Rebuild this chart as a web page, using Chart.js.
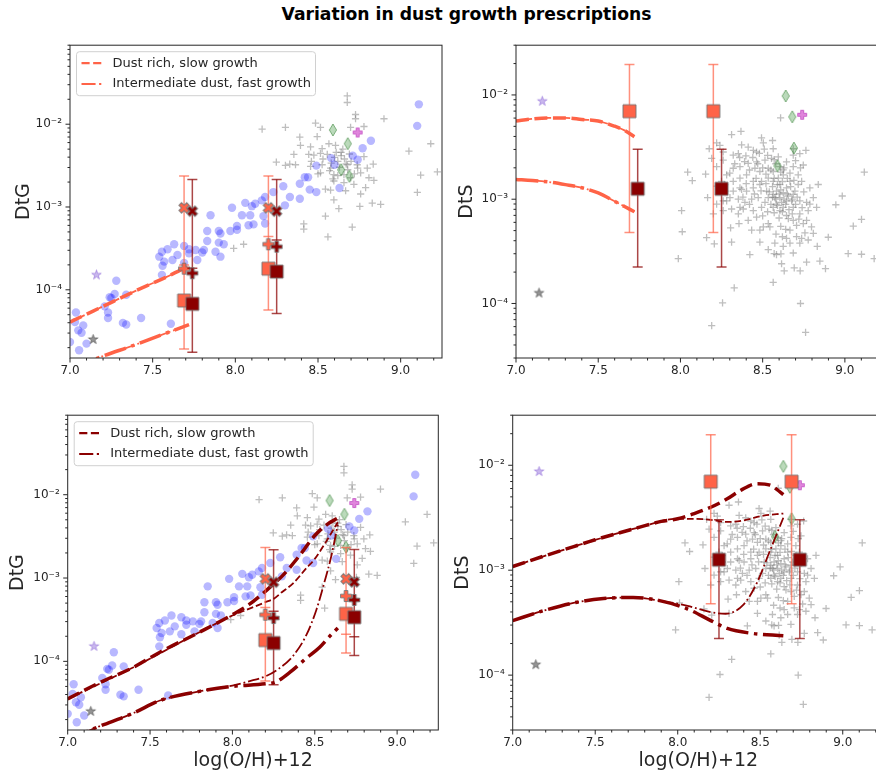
<!DOCTYPE html>
<html>
<head>
<meta charset="utf-8">
<title>Variation in dust growth prescriptions</title>
<script src="https://cdn.jsdelivr.net/npm/chart.js@4.4.1/dist/chart.umd.min.js"></script>
<style>
  html, body { margin: 0; padding: 0; background: #fff; width: 876px; height: 780px; overflow: hidden; }
  canvas { position: absolute; }
  #title { position: absolute; left: 0; top: 4px; width: 933px; text-align: center;
           font: bold 17.2px 'DejaVu Sans', sans-serif; color: #000; }
</style>
</head>
<body>
<div id="title">Variation in dust growth prescriptions</div>
<canvas id="tl"></canvas>
<canvas id="tr"></canvas>
<canvas id="bl"></canvas>
<canvas id="br"></canvas>
<script>
const FONT = "'DejaVu Sans', sans-serif";
const INK = '#262626';
const TOMATO = '#ff6347';
const DARKRED = '#8b0000';

// axes
const xRange = [7.0, 9.25];
const xTicks = [7.0, 7.5, 8.0, 8.5, 9.0];
const dtgRange = [1.5e-5, 0.09];
const dtsRange = [3.0e-5, 0.03];
const yTicks = [1e-4, 1e-3, 1e-2];
const SUP = { '-4': '\u207b\u2074', '-3': '\u207b\u00b3', '-2': '\u207b\u00b2' };

// observed galaxies: [log(O/H)+12, log10 value]
const blueDtG = [
  [7.00,-4.63],[7.036,-4.275],[7.03,-4.39],[7.05,-4.49],[7.08,-4.43],[7.07,-4.52],[7.055,-4.73],[7.10,-4.65],
  [7.21,-4.20],[7.23,-4.275],[7.23,-4.34],[7.24,-4.09],[7.25,-4.10],[7.27,-4.05],[7.28,-3.89],[7.32,-4.40],
  [7.34,-4.42],[7.34,-4.06],[7.43,-4.34],[7.61,-4.41],[7.556,-3.82],[7.54,-3.60],[7.556,-3.54],[7.57,-3.66],
  [7.56,-3.71],[7.59,-3.51],[7.63,-3.45],[7.62,-3.64],[7.65,-3.58],[7.69,-3.47],[7.69,-3.675],[7.72,-3.51],
  [7.72,-3.56],[7.76,-3.52],[7.77,-3.64],[7.80,-3.55],[7.81,-3.52],[7.83,-3.41],[7.83,-3.29],[7.85,-3.10],
  [7.88,-3.54],[7.90,-3.29],[7.91,-3.32],[7.90,-3.43],[7.93,-3.45],[7.91,-3.60],[7.97,-3.29],[7.98,-3.01],
  [8.01,-3.275],[8.01,-3.23],[8.04,-3.10],[8.06,-2.95],[8.08,-3.22],[8.09,-3.10],[8.10,-2.99],[8.11,-3.21],
  [8.12,-2.96],[8.16,-2.92],[8.17,-3.11],[8.18,-3.20],[8.18,-2.88],[8.23,-2.82],[8.29,-2.75],[8.30,-2.98],
  [8.33,-2.88],[8.39,-2.90],[8.39,-2.72],[8.42,-2.64],[8.44,-2.64],[8.45,-2.79],[8.49,-2.82],[8.49,-2.50],
  [8.58,-2.41],[8.60,-2.49],[8.63,-2.77],[8.71,-2.38],[8.74,-2.43],[8.77,-2.29],[8.82,-2.20],[9.10,-2.02],
  [9.11,-1.76]
];
const greyDtG = [
  [8.677,-1.659],[8.677,-1.738],[8.727,-1.883],[8.727,-1.934],[8.899,-1.934],[8.162,-2.059],[8.303,-2.039],
  [8.485,-1.988],[8.515,-2.039],[8.778,-2.028],[8.697,-2.039],[8.390,-2.157],[8.495,-2.149],[8.394,-2.255],
  [8.455,-2.275],[8.525,-2.294],[8.566,-2.236],[8.606,-2.255],[8.354,-2.365],[8.444,-2.365],[8.475,-2.373],
  [8.515,-2.353],[8.556,-2.365],[8.640,-2.341],[8.778,-2.392],[8.248,-2.459],[8.303,-2.498],[8.329,-2.483],
  [8.364,-2.490],[8.455,-2.510],[8.525,-2.490],[8.576,-2.530],[8.677,-2.490],[8.737,-2.490],[8.798,-2.530],
  [8.834,-2.483],[9.222,-2.577],[9.182,-2.236],[9.050,-2.326],[9.121,-2.616],[9.101,-2.824],[8.515,-2.589],
  [8.596,-2.608],[8.657,-2.608],[8.697,-2.647],[8.758,-2.589],[8.808,-2.647],[8.838,-2.679],[8.545,-2.785],
  [8.596,-2.686],[8.657,-2.706],[8.717,-2.726],[8.788,-2.765],[8.576,-2.796],[8.667,-2.804],[8.758,-2.843],
  [8.596,-2.914],[8.828,-2.953],[8.879,-2.969],[8.753,-2.992],[8.626,-3.020],[8.545,-3.110],[8.707,-3.243],
  [8.560,-3.361],[8.414,-3.204],[8.414,-3.267],[7.99,-3.50],[8.05,-3.45],[8.60,-2.40],[8.62,-2.45],
  [8.64,-2.38],[8.58,-2.47],[8.66,-2.42],[8.63,-2.52],[8.70,-2.45],[8.61,-2.34],[8.68,-2.55],[8.57,-2.56],
  [8.65,-2.30],[8.72,-2.60],[8.53,-2.42],[8.62,-2.62],[8.69,-2.36],[8.74,-2.53],[8.50,-2.60],[8.46,-2.45],
  [8.59,-2.66],[8.67,-2.48]
];
const greyDtS = [
  [7.987,-3.569],[8.007,-3.109],[8.011,-3.312],[8.044,-2.740],[8.072,-2.822],[8.153,-2.759],[8.165,-2.984],
  [8.159,-3.369],[8.206,-3.428],[8.190,-4.212],[8.256,-3.994],[8.327,-3.850],[8.422,-3.531],[8.311,-3.412],
  [8.305,-3.275],[8.356,-3.234],[8.483,-3.412],[8.564,-3.797],[8.570,-3.522],[8.615,-3.619],[8.631,-3.687],
  [8.692,-3.659],[8.728,-3.687],[8.730,-4.000],[8.761,-4.278],[8.767,-3.603],[8.848,-3.594],[8.882,-3.665],
  [9.020,-3.522],[9.101,-3.528],[9.178,-3.569],[9.051,-3.259],[9.101,-3.194],[8.945,-3.053],[8.984,-2.969],
  [9.118,-2.740],[8.899,-3.365],[8.832,-3.453],[8.808,-3.328],[8.757,-3.322],[8.737,-3.375],[8.686,-3.516],
  [8.611,-3.525],[8.645,-3.375],[8.666,-3.297],[8.581,-3.334],[8.534,-3.234],[8.483,-3.297],[8.433,-3.297],
  [8.412,-3.203],[8.382,-3.094],[8.352,-3.141],[8.609,-2.219],[8.220,-2.459],[8.311,-2.381],[8.368,-2.350],
  [8.412,-2.500],[8.493,-2.412],[8.560,-2.437],[8.504,-2.459],[8.372,-2.478],[8.352,-2.562],[8.398,-2.584],
  [8.443,-2.531],[8.463,-2.547],[8.321,-2.578],[8.260,-2.547],[8.240,-2.484],[8.175,-2.516],[8.190,-2.609],
  [8.260,-2.625],[8.220,-2.687],[8.321,-2.703],[8.362,-2.687],[8.412,-2.656],[8.463,-2.641],[8.514,-2.625],
  [8.554,-2.609],[8.595,-2.594],[8.686,-2.578],[8.726,-2.562],[8.763,-2.531],[8.747,-2.672],[8.686,-2.687],
  [8.716,-2.766],[8.625,-2.766],[8.666,-2.828],[8.737,-2.828],[8.787,-2.891],[8.838,-2.859],[8.828,-3.078],
  [8.777,-3.109],[8.767,-3.031],[8.726,-3.016],[8.686,-2.953],[8.645,-2.891],[8.605,-2.859],[8.564,-2.828],
  [8.534,-2.797],[8.483,-2.734],[8.453,-2.703],[8.402,-2.766],[8.362,-2.797],[8.321,-2.828],[8.281,-2.766],
  [8.250,-2.828],[8.220,-2.875],[8.271,-2.922],[8.321,-2.922],[8.362,-2.891],[8.402,-2.922],[8.443,-2.891],
  [8.483,-2.859],[8.524,-2.922],[8.564,-2.953],[8.605,-2.984],[8.645,-3.016],[8.686,-3.078],[8.726,-3.141],
  [8.767,-3.203],[8.686,-3.203],[8.645,-3.156],[8.605,-3.109],[8.564,-3.078],[8.514,-3.031],[8.473,-2.984],
  [8.433,-3.000],[8.392,-3.031],[8.352,-3.000],[8.301,-2.984],[8.260,-3.016],[8.220,-3.047],[8.200,-3.141],
  [8.260,-3.109],[8.311,-3.094],[8.362,-3.078],[8.443,-3.109],[8.493,-3.078],[8.534,-2.984],[8.584,-2.922],
  [8.625,-2.938],[8.584,-3.047],[8.625,-3.078],[8.656,-3.187],[8.706,-3.250],[8.747,-3.234],[8.797,-3.266],
  [8.706,-3.359],[8.666,-3.422],[8.625,-3.453],[8.574,-3.422],[8.534,-3.484],[8.584,-3.531],[8.726,-3.422],
  [8.777,-3.391],[8.463,-3.172],[8.504,-3.266],[8.544,-3.266],[8.676,-3.016],[8.574,-2.984],[8.605,-2.687],
  [8.564,-2.734],[8.534,-2.703],[8.696,-2.922],[8.656,-2.969],[8.615,-3.031],[8.595,-2.797],[8.493,-2.828],
  [8.443,-2.828],[8.372,-2.906],[8.281,-3.016],[8.787,-3.047],[8.808,-2.984],[8.716,-2.859],[8.666,-2.750],
  [8.625,-2.719],[8.645,-2.641],[8.686,-2.516],[8.564,-2.516],
  [8.47,-2.66],[8.50,-2.70],[8.52,-2.76],[8.55,-2.72],[8.57,-2.80],[8.59,-2.86],[8.61,-2.91],[8.62,-2.83],
  [8.60,-2.95],[8.58,-3.00],[8.56,-2.88],[8.54,-2.93],[8.63,-3.00],[8.65,-2.95],[8.67,-2.88],[8.64,-3.05],
  [8.62,-3.12],[8.60,-3.18],[8.57,-3.13],[8.55,-3.05],[8.66,-3.10],[8.68,-3.00],[8.70,-3.05],[8.71,-2.98],
  [8.69,-2.82],[8.63,-2.70],[8.58,-2.66],[8.52,-2.85],[8.49,-2.92],[8.46,-2.80],[8.42,-2.72],[8.39,-2.64],
  [8.44,-2.60],[8.48,-2.56],[8.53,-2.58],[8.51,-2.52],[8.57,-2.62],[8.61,-2.74],[8.65,-2.80],[8.59,-3.06],
  [8.61,-3.26],[8.64,-3.29],[8.68,-3.14],[8.72,-3.19],[8.74,-3.08],[8.75,-2.93],[8.73,-2.70],[8.70,-2.63],
  [8.36,-2.60],[8.33,-2.66],[8.30,-2.75],[8.27,-2.86],[8.40,-2.85],[8.45,-2.95],[8.42,-3.05],[8.38,-2.98],
  [8.56,-2.98],[8.53,-3.12],[8.50,-3.16],[8.62,-3.36]
];
const diamondX = [8.59, 8.64, 8.68, 8.69];
const diamondDtG = [-2.07, -2.55, -2.235, -2.63];
const diamondDtS = [-2.68, -2.01, -2.21, -2.51];
const starPurpleX = [7.16], starPurpleDtG = [-3.82], starPurpleDtS = [-2.06];
const starGreyX = [7.14], starGreyDtG = [-4.60], starGreyDtS = [-3.90];
const orchidX = [8.74], orchidDtG = [-2.10], orchidDtS = [-2.19];

// model tracks, log10 values
const topDtGDashX = [7.0, 7.2, 7.4, 7.6, 7.71];
const topDtGDash  = [-4.39, -4.20, -4.01, -3.83, -3.72];
const topDtGDotX  = [7.0, 7.2, 7.4, 7.6, 7.72];
const topDtGDot   = [-4.95, -4.80, -4.66, -4.51, -4.42];
const topDtSX     = [7.0, 7.1, 7.2, 7.3, 7.4, 7.5, 7.6, 7.66, 7.72];
const topDtSDash  = [-2.25, -2.23, -2.22, -2.22, -2.235, -2.25, -2.30, -2.34, -2.40];
const topDtSDot   = [-2.81, -2.82, -2.835, -2.86, -2.89, -2.94, -3.02, -3.07, -3.12];

const botDtGDashX     = [7.0, 7.2, 7.4, 7.56, 7.8, 8.0, 8.1, 8.2, 8.25, 8.3, 8.4, 8.5, 8.58, 8.64];
const botDtGDash      = [-4.45, -4.25, -4.07, -3.89, -3.65, -3.44, -3.32, -3.16, -3.07, -2.98, -2.75, -2.49, -2.35, -2.28];
const botDtGDashThinX = [7.0, 7.4, 7.8, 8.0, 8.1, 8.2, 8.25, 8.3, 8.37, 8.45, 8.5, 8.57, 8.64];
const botDtGDashThin  = [-4.45, -4.07, -3.65, -3.45, -3.37, -3.29, -3.25, -3.17, -3.06, -2.88, -2.77, -2.56, -2.33];
const botDtGDotX      = [7.0, 7.155, 7.4, 7.56, 7.8, 8.0, 8.2, 8.26, 8.35, 8.45, 8.53, 8.59, 8.64];
const botDtGDot       = [-4.95, -4.81, -4.62, -4.47, -4.36, -4.30, -4.27, -4.25, -4.13, -3.96, -3.83, -3.70, -3.60];
const botDtGDotThinX  = [7.0, 7.155, 7.4, 7.56, 7.8, 8.0, 8.1, 8.2, 8.28, 8.37, 8.45, 8.51, 8.56, 8.60, 8.64];
const botDtGDotThin   = [-4.95, -4.81, -4.62, -4.47, -4.36, -4.29, -4.24, -4.18, -4.09, -3.93, -3.68, -3.38, -3.04, -2.74, -2.36];

const botDtSDashX     = [7.0, 7.2, 7.37, 7.5, 7.77, 7.9, 8.0, 8.1, 8.2, 8.3, 8.38, 8.48, 8.56, 8.6, 8.64];
const botDtSDash      = [-2.965, -2.86, -2.775, -2.71, -2.59, -2.535, -2.51, -2.46, -2.40, -2.32, -2.24, -2.175, -2.19, -2.23, -2.28];
const botDtSDashThinX = [7.0, 7.37, 7.77, 8.0, 8.1, 8.2, 8.3, 8.4, 8.52, 8.64];
const botDtSDashThin  = [-2.965, -2.775, -2.59, -2.51, -2.51, -2.52, -2.54, -2.525, -2.48, -2.46];
const botDtSDotX      = [7.0, 7.2, 7.39, 7.55, 7.73, 7.89, 8.06, 8.2, 8.3, 8.44, 8.64];
const botDtSDot       = [-3.48, -3.38, -3.305, -3.27, -3.26, -3.29, -3.37, -3.48, -3.555, -3.60, -3.625];
const botDtSDotThinX  = [7.0, 7.2, 7.39, 7.55, 7.73, 7.89, 8.06, 8.2, 8.29, 8.4, 8.48, 8.56, 8.64];
const botDtSDotThin   = [-3.48, -3.38, -3.305, -3.27, -3.26, -3.29, -3.34, -3.40, -3.415, -3.325, -3.12, -2.81, -2.50];

// model points, one entry per column (log10)
const topTomatoX = [7.69, 8.20];
const topTomatoCross  = [-3.01, -3.01];
const topTomatoPlus   = [-3.745, -3.45];
const topTomatoSquare = [-4.13, -3.745];
const topTomatoErrLo  = [-4.714, -4.243];
const topTomatoErrHi  = [-2.627, -2.627];
const topTomatoCap    = [-3.70, -3.355];

const topDarkX = [7.74, 8.25];
const topDarkCross  = [-3.05, -3.05];
const topDarkPlus   = [-3.80, -3.48];
const topDarkSquare = [-4.17, -3.78];
const topDarkErrLo  = [-4.753, -4.286];
const topDarkErrHi  = [-2.667, -2.667];
const topDarkCap    = [-3.74, -3.40];

const botTomatoX = [8.20, 8.69];
const botTomatoCross  = [-3.01, -3.01];
const botTomatoPlus   = [-3.44, -3.216];
const botTomatoSquare = [-3.745, -3.43];
const botTomatoErrLo  = [-4.235, -3.90];
const botTomatoErrHi  = [-2.635, -2.635];
const botTomatoCap    = [-3.355, -3.675];

const botDarkX = [8.25, 8.74];
const botDarkCross  = [-3.05, -3.047];
const botDarkPlus   = [-3.48, -3.263];
const botDarkSquare = [-3.78, -3.47];
const botDarkErrLo  = [-4.28, -3.93];
const botDarkErrHi  = [-2.66, -2.659];
const botDarkCap    = [-3.40, -3.706];

const dtsTomatoSquare = [-2.156, -2.156];
const dtsTomatoErrLo  = [-3.32, -3.32];
const dtsTomatoErrHi  = [-1.709, -1.709];
const dtsDarkSquare   = [-2.90, -2.90];
const dtsDarkErrLo    = [-3.65, -3.65];
const dtsDarkErrHi    = [-2.52, -2.52];

const legendLabels = ['Dust rich, slow growth', 'Intermediate dust, fast growth'];

// ---------- helpers ----------
const L = v => Math.pow(10, v);
const pairs = arr => arr.map(([x, v]) => ({ x, y: L(v) }));
const zipXY = (xs, ys) => xs.map((x, i) => ({ x, y: L(ys[i]) }));

const THICK = 3.5, THIN = 1.8;
const dashed = lw => [3.7 * lw, 1.6 * lw];
const dashdot = lw => [6.4 * lw, 1.6 * lw, lw, 1.6 * lw];

function sprite(size, draw) {
  const c = document.createElement('canvas');
  c.width = c.height = size;
  const g = c.getContext('2d');
  g.translate(size / 2, size / 2);
  draw(g);
  return c;
}
function polySprite(points, scale, fill, edge, rot) {
  const ext = Math.max(...points.map(([a, b]) => Math.hypot(a, b))) * scale;
  return sprite(Math.ceil(ext * 2 + 4), g => {
    g.rotate(rot || 0);
    g.beginPath();
    points.forEach(([a, b], i) => i ? g.lineTo(a * scale, b * scale) : g.moveTo(a * scale, b * scale));
    g.closePath();
    g.fillStyle = fill;
    g.fill();
    if (edge) { g.strokeStyle = edge; g.lineWidth = 1; g.stroke(); }
  });
}
const PLUS = [[-1,-3],[-1,-1],[-3,-1],[-3,1],[-1,1],[-1,3],[1,3],[1,1],[3,1],[3,-1],[1,-1],[1,-3]];
const SQUARE = [[-1,-1],[1,-1],[1,1],[-1,1]];
const THIN_DIAMOND = [[0,-1],[0.6,0],[0,1],[-0.6,0]];
const STAR = [];
for (let i = 0; i < 10; i++) {
  const r = i % 2 ? 0.382 : 1, a = -Math.PI / 2 + i * Math.PI / 5;
  STAR.push([r * Math.cos(a), r * Math.sin(a)]);
}
const EDGE = 'rgba(115,115,115,0.9)';
const marks = {
  sqT: polySprite(SQUARE, 6.5, TOMATO, EDGE),
  sqD: polySprite(SQUARE, 6.5, DARKRED, EDGE),
  xT: polySprite(PLUS, 11 / 6, TOMATO, EDGE, Math.PI / 4),
  xD: polySprite(PLUS, 11 / 6, DARKRED, EDGE, Math.PI / 4),
  pT: polySprite(PLUS, 11 / 6, TOMATO, EDGE),
  pD: polySprite(PLUS, 11 / 6, DARKRED, EDGE),
  starP: polySprite(STAR, 5, 'rgba(147,112,219,0.5)', 'rgba(147,112,219,0.6)'),
  starG: polySprite(STAR, 5, 'rgba(90,90,90,0.65)', 'rgba(90,90,90,0.7)'),
  diamond: polySprite(THIN_DIAMOND, 6, 'rgba(60,150,60,0.35)', 'rgba(40,120,40,0.55)'),
  orchid: polySprite(PLUS, 9 / 6, 'rgba(218,112,214,0.85)', 'rgba(200,90,200,0.9)')
};

function pointSet(data, style, extra) {
  return Object.assign({ data, pointStyle: style, pointRadius: 6, pointBorderWidth: 0 }, extra || {});
}
function lineSet(xs, ys, color, lw, dash) {
  return { data: zipXY(xs, ys), showLine: true, borderColor: color, borderWidth: lw, borderDash: dash,
           borderCapStyle: 'butt', pointRadius: 0, cubicInterpolationMode: 'monotone', fill: false };
}
function errBar(x, lo, hi, color) {
  return { data: [{ x, y: L(lo) }, { x, y: L(hi) }], showLine: true, borderColor: color, borderWidth: 1.5,
           pointStyle: 'line', pointRadius: 5, pointBorderColor: color, pointBorderWidth: 1.5 };
}
function modelSets(xs, m, sq, px, xx, barColor) {
  const sets = xs.map((x, i) => errBar(x, m.lo[i], m.hi[i], barColor));
  if (m.cap) sets.push({ data: zipXY(xs, m.cap), pointStyle: 'line', pointRadius: 5,
                         pointBorderColor: barColor, pointBorderWidth: 1.5 });
  sets.push(pointSet(zipXY(xs, m.square), sq));
  if (m.plus) sets.push(pointSet(zipXY(xs, m.plus), px));
  if (m.cross) sets.push(pointSet(zipXY(xs, m.cross), xx));
  return sets;
}

function obsSets(kind) {
  const dtg = kind === 'dtg';
  const grey = 'rgba(110,110,110,0.45)';
  const sets = [
    pointSet(pairs(dtg ? greyDtG : greyDtS), 'cross', { pointRadius: 3.6, pointBorderWidth: 1.3, pointBorderColor: grey })
  ];
  if (dtg) sets.push(pointSet(pairs(blueDtG), 'circle', { pointRadius: 4.2, pointBackgroundColor: 'rgba(0,0,255,0.28)' }));
  sets.push(pointSet(zipXY(starPurpleX, dtg ? starPurpleDtG : starPurpleDtS), marks.starP));
  sets.push(pointSet(zipXY(starGreyX, dtg ? starGreyDtG : starGreyDtS), marks.starG));
  sets.push(pointSet(zipXY(diamondX, dtg ? diamondDtG : diamondDtS), marks.diamond));
  sets.push(pointSet(zipXY(orchidX, dtg ? orchidDtG : orchidDtS), marks.orchid));
  return sets;
}

function panelSets(kind, row) {
  const top = row === 'top';
  const col = top ? TOMATO : DARKRED;
  let sets = obsSets(kind);
  if (top && kind === 'dtg') {
    sets.push(lineSet(topDtGDashX, topDtGDash, col, THIN, dashed(THIN)));
    sets.push(lineSet(topDtGDotX, topDtGDot, col, THIN, dashdot(THIN)));
    sets.push(lineSet(topDtGDashX, topDtGDash, col, THICK, dashed(THICK)));
    sets.push(lineSet(topDtGDotX, topDtGDot, col, THICK, dashdot(THICK)));
  } else if (top) {
    sets.push(lineSet(topDtSX, topDtSDash, col, THIN, dashed(THIN)));
    sets.push(lineSet(topDtSX, topDtSDot, col, THIN, dashdot(THIN)));
    sets.push(lineSet(topDtSX, topDtSDash, col, THICK, dashed(THICK)));
    sets.push(lineSet(topDtSX, topDtSDot, col, THICK, dashdot(THICK)));
  } else if (kind === 'dtg') {
    sets.push(lineSet(botDtGDashThinX, botDtGDashThin, col, THIN, dashed(THIN)));
    sets.push(lineSet(botDtGDotThinX, botDtGDotThin, col, THIN, dashdot(THIN)));
    sets.push(lineSet(botDtGDashX, botDtGDash, col, THICK, dashed(THICK)));
    sets.push(lineSet(botDtGDotX, botDtGDot, col, THICK, dashdot(THICK)));
  } else {
    sets.push(lineSet(botDtSDashThinX, botDtSDashThin, col, THIN, dashed(THIN)));
    sets.push(lineSet(botDtSDotThinX, botDtSDotThin, col, THIN, dashdot(THIN)));
    sets.push(lineSet(botDtSDashX, botDtSDash, col, THICK, dashed(THICK)));
    sets.push(lineSet(botDtSDotX, botDtSDot, col, THICK, dashdot(THICK)));
  }

  const tX = top ? topTomatoX : botTomatoX;
  const dX = top ? topDarkX : botDarkX;
  const barT = 'rgba(255,99,71,0.7)', barD = 'rgba(139,0,0,0.72)';
  let mT, mD;
  if (kind === 'dts') {
    mT = { square: dtsTomatoSquare, lo: dtsTomatoErrLo, hi: dtsTomatoErrHi };
    mD = { square: dtsDarkSquare, lo: dtsDarkErrLo, hi: dtsDarkErrHi };
  } else if (top) {
    mT = { square: topTomatoSquare, plus: topTomatoPlus, cross: topTomatoCross, lo: topTomatoErrLo, hi: topTomatoErrHi, cap: topTomatoCap };
    mD = { square: topDarkSquare, plus: topDarkPlus, cross: topDarkCross, lo: topDarkErrLo, hi: topDarkErrHi, cap: topDarkCap };
  } else {
    mT = { square: botTomatoSquare, plus: botTomatoPlus, cross: botTomatoCross, lo: botTomatoErrLo, hi: botTomatoErrHi, cap: botTomatoCap };
    mD = { square: botDarkSquare, plus: botDarkPlus, cross: botDarkCross, lo: botDarkErrLo, hi: botDarkErrHi, cap: botDarkCap };
  }
  sets = sets.concat(modelSets(tX, mT, marks.sqT, marks.pT, marks.xT, barT));
  sets = sets.concat(modelSets(dX, mD, marks.sqD, marks.pD, marks.xD, barD));
  // later datasets on top
  return sets.map((d, i) => Object.assign({ order: -i }, d));
}

// frame + major/minor ticks, drawn over the data like matplotlib spines
const frameTicks = {
  id: 'frameTicks',
  afterDatasetsDraw(chart) {
    const { ctx, chartArea: a, scales: { x, y } } = chart;
    ctx.save();
    ctx.strokeStyle = INK;
    ctx.lineWidth = 1;
    ctx.strokeRect(a.left, a.top, a.right - a.left, a.bottom - a.top);
    ctx.beginPath();
    for (let i = 70; i <= 93; i++) {
      const v = i / 10;
      if (v > x.max) break;
      const px = x.getPixelForValue(v);
      ctx.moveTo(px, a.bottom);
      ctx.lineTo(px, a.bottom + (i % 5 === 0 ? 4.5 : 2.5));
    }
    for (let e = -6; e < 0; e++) {
      for (let k = 1; k < 10; k++) {
        const v = k * Math.pow(10, e);
        if (v < y.min || v > y.max) continue;
        const py = y.getPixelForValue(v);
        ctx.moveTo(a.left, py);
        ctx.lineTo(a.left - (k === 1 ? 4.5 : 2.5), py);
      }
    }
    ctx.stroke();
    ctx.restore();
  }
};

function boxLegend(color) {
  return {
    id: 'boxLegend',
    afterDraw(chart) {
      const { ctx, chartArea: a } = chart;
      const x0 = a.left + 6.5, y0 = a.top + 6.5, w = 239, h = 44, r = 3;
      ctx.save();
      ctx.beginPath();
      ctx.moveTo(x0 + r, y0);
      ctx.arcTo(x0 + w, y0, x0 + w, y0 + h, r);
      ctx.arcTo(x0 + w, y0 + h, x0, y0 + h, r);
      ctx.arcTo(x0, y0 + h, x0, y0, r);
      ctx.arcTo(x0, y0, x0 + w, y0, r);
      ctx.closePath();
      ctx.fillStyle = 'rgba(255,255,255,0.8)';
      ctx.fill();
      ctx.strokeStyle = '#d0d0d0';
      ctx.lineWidth = 1;
      ctx.stroke();
      const lw = 2.2;
      const dashes = [dashed(lw), dashdot(lw)];
      legendLabels.forEach((label, i) => {
        const cy = y0 + 11.5 + i * 20.8;
        ctx.setLineDash(dashes[i]);
        ctx.lineWidth = lw;
        ctx.strokeStyle = color;
        ctx.beginPath();
        ctx.moveTo(x0 + 5, cy);
        ctx.lineTo(x0 + 25, cy);
        ctx.stroke();
        ctx.setLineDash([]);
        ctx.fillStyle = INK;
        ctx.font = '13px ' + FONT;
        ctx.textBaseline = 'middle';
        ctx.fillText(label, x0 + 36, cy);
      });
      ctx.restore();
    }
  };
}

const panels = [
  { id: 'tl', box: [0, 30, 450, 360],   area: [70, 37, 442, 358],      kind: 'dtg', row: 'top', yTitle: 'DtG', yPad: 12.5 },
  { id: 'tr', box: [450, 30, 450, 360], area: [516, 37, 886, 358],     kind: 'dts', row: 'top', yTitle: 'DtS', yPad: 5.5 },
  { id: 'bl', box: [0, 400, 450, 380],  area: [67.7, 409.3, 438.3, 730], kind: 'dtg', row: 'bot', yTitle: 'DtG', yPad: 7 },
  { id: 'br', box: [450, 400, 450, 380], area: [512.7, 409.3, 884, 730], kind: 'dts', row: 'bot', yTitle: 'DtS', yPad: 2 }
];

panels.forEach(p => {
  const cv = document.getElementById(p.id);
  const [left, top, W, H] = p.box;
  const [al, at, ar, ab] = p.area;
  cv.width = W;
  cv.height = H;
  cv.style.left = left + 'px';
  cv.style.top = top + 'px';
  const yRange = p.kind === 'dtg' ? dtgRange : dtsRange;
  const plugins = [frameTicks];
  if (p.kind === 'dtg') plugins.push(boxLegend(p.row === 'top' ? TOMATO : DARKRED));

  new Chart(cv, {
    type: 'scatter',
    data: { datasets: panelSets(p.kind, p.row) },
    plugins,
    options: {
      responsive: false,
      animation: false,
      events: [],
      layout: { padding: { left: 0, top: at - top, right: left + W - ar, bottom: 0 } },
      plugins: { legend: { display: false }, tooltip: { enabled: false } },
      scales: {
        x: {
          type: 'linear', min: xRange[0], max: xRange[1],
          afterFit: s => { s.height = H - (ab - top); },
          afterBuildTicks: s => { s.ticks = xTicks.map(v => ({ value: v })); },
          grid: { display: false, drawTicks: false },
          border: { display: false },
          ticks: { font: { family: FONT, size: 12 }, color: INK, padding: 6, maxRotation: 0, autoSkip: false,
                   callback: v => v.toFixed(1) },
          title: { display: p.row === 'bot', text: 'log(O/H)+12', font: { family: FONT, size: 19 }, color: INK,
                   padding: { top: 0, bottom: 8 } }
        },
        y: {
          type: 'logarithmic', min: yRange[0], max: yRange[1],
          afterFit: s => { s.width = al - left; },
          afterBuildTicks: s => { s.ticks = yTicks.map(v => ({ value: v })); },
          grid: { display: false, drawTicks: false },
          border: { display: false },
          ticks: { font: { family: FONT, size: 12 }, color: INK, padding: 8,
                   callback: v => '10' + SUP[Math.round(Math.log10(v))] },
          title: { display: true, text: p.yTitle, font: { family: FONT, size: 19 }, color: INK,
                   padding: { top: p.yPad, bottom: 0 } }
        }
      }
    }
  });
});
</script>
</body>
</html>
